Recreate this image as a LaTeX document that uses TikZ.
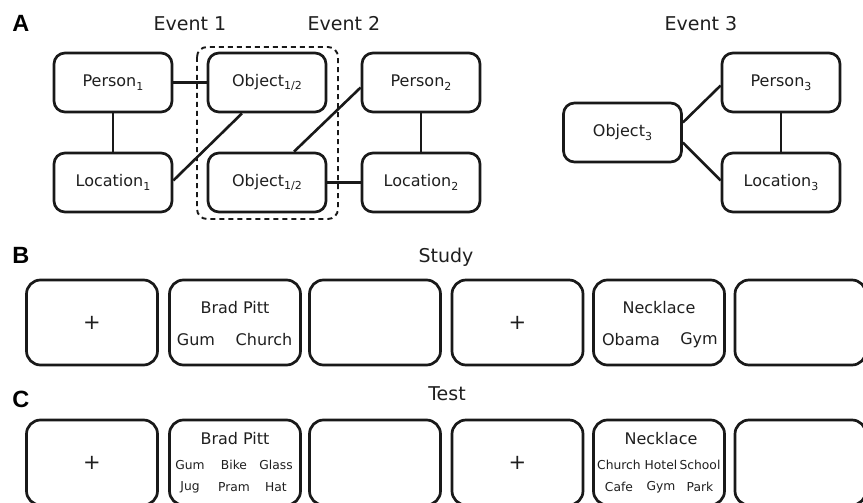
\documentclass[tikz,border=0pt]{standalone}
\usepackage{fontspec}
\setmainfont{DejaVu Sans}
\newfontfamily\letterfont{Liberation Sans Bold}
\newcommand{\lsub}[1]{\raisebox{-0.4ex}{\fontsize{11}{11}\selectfont #1}}
\begin{document}
\begin{tikzpicture}[x=1pt,y=-1pt,
  ink/.style={draw=black!90, line width=2.7pt},
  abox/.style={ink, rounded corners=11pt, minimum width=118pt, minimum height=59pt, inner sep=0pt, font=\fontsize{16}{18}\selectfont, text=black!88},
  tbox/.style={ink, rounded corners=14pt, minimum width=131pt, minimum height=85pt, inner sep=0pt, font=\fontsize{21}{24}\selectfont, text=black!88},
  hdr/.style={anchor=base, font=\fontsize{19}{22}\selectfont, text=black!88},
  lett/.style={anchor=base west, inner sep=0pt, font=\letterfont, scale=2.35},
  wd/.style={inner sep=0pt, font=\fontsize{16}{18}\selectfont, text=black!88},
  sw/.style={inner sep=0pt, font=\fontsize{12.3}{14}\selectfont, text=black!88},
  link/.style={draw=black!90, line width=2.6pt}]
\clip (0,0) rectangle (863,503);
\fill[white] (0,0) rectangle (863,503);

% Panel A
\node[lett] (la) at (12,32) {A};
\node[hdr] (e1) at (190,31) {Event 1};
\node[hdr] (e2) at (344,31) {Event 2};
\node[hdr] (e3) at (701,31) {Event 3};

\draw[draw=black!90, line width=1.9pt, dash pattern=on 5pt off 4pt, rounded corners=10pt] (197,47) rectangle (338,219);

\node[abox] (p1) at (113,82.5) {Person\lsub{1}};
\node[abox] (o1) at (267,82.5) {Object\lsub{1/2}};
\node[abox] (l1) at (113,182.5) {Location\lsub{1}};
\node[abox] (o2) at (267,182.5) {Object\lsub{1/2}};
\node[abox] (p2) at (421,82.5) {Person\lsub{2}};
\node[abox] (l2) at (421,182.5) {Location\lsub{2}};
\node[abox] (o3) at (622.5,132.5) {Object\lsub{3}};
\node[abox] (p3) at (781,82.5) {Person\lsub{3}};
\node[abox] (l3) at (781,182.5) {Location\lsub{3}};

\draw[link] (p1.east) -- (o1.west);
\draw[link] (p1.south) -- (l1.north);
\draw[link] ([yshift=2pt]l1.east) -- ([xshift=-25pt]o1.south);
\draw[link] ([xshift=27pt]o2.north) -- ([yshift=-5pt]p2.west);
\draw[link] (o2.east) -- (l2.west);
\draw[link] (p2.south) -- (l2.north);
\draw[link] ([yshift=10pt]o3.east) -- ([yshift=-3pt]p3.west);
\draw[link] ([yshift=-10pt]o3.east) -- ([yshift=2pt]l3.west);
\draw[link] (p3.south) -- (l3.north);

% Panel B
\node[lett] (lb) at (12,263) {B};
\node[hdr] (st) at (446,262) {Study};
\node[tbox] (b1) at (92,322.5) {+};
\node[tbox] (b2) at (235,322.5) {};
\node[tbox] (b3) at (375,322.5) {};
\node[tbox] (b4) at (517.5,322.5) {+};
\node[tbox] (b5) at (659,322.5) {};
\node[tbox] (b6) at (800.5,322.5) {};
\node[wd] (b2t) at (235,308) {Brad Pitt};
\node[wd] (b2a) at (196,340) {Gum};
\node[wd] (b2b) at (264,340) {Church};
\node[wd] (b5t) at (659,308) {Necklace};
\node[wd] (b5a) at (631,340) {Obama};
\node[wd] (b5b) at (699,340) {Gym};

% Panel C
\node[lett] (lc) at (12,407) {C};
\node[hdr] (te) at (447,400.5) {Test};
\node[tbox] (c1) at (92,462.5) {+};
\node[tbox] (c2) at (235,462.5) {};
\node[tbox] (c3) at (375,462.5) {};
\node[tbox] (c4) at (517.5,462.5) {+};
\node[tbox] (c5) at (659,462.5) {};
\node[tbox] (c6) at (800.5,462.5) {};
\node[wd] (c2t) at (235,439) {Brad Pitt};
\node[sw] (c2a) at (190,465) {Gum};
\node[sw] (c2b) at (234,465) {Bike};
\node[sw] (c2c) at (276,465) {Glass};
\node[sw] (c2d) at (190,487) {Jug};
\node[sw] (c2e) at (234,487) {Pram};
\node[sw] (c2f) at (276,487) {Hat};
\node[wd] (c5t) at (661,439) {Necklace};
\node[sw] (c5a) at (619,465) {Church};
\node[sw] (c5b) at (661,465) {Hotel};
\node[sw] (c5c) at (700,465) {School};
\node[sw] (c5d) at (619,487) {Cafe};
\node[sw] (c5e) at (661,487) {Gym};
\node[sw] (c5f) at (700,487) {Park};
\end{tikzpicture}
\end{document}
